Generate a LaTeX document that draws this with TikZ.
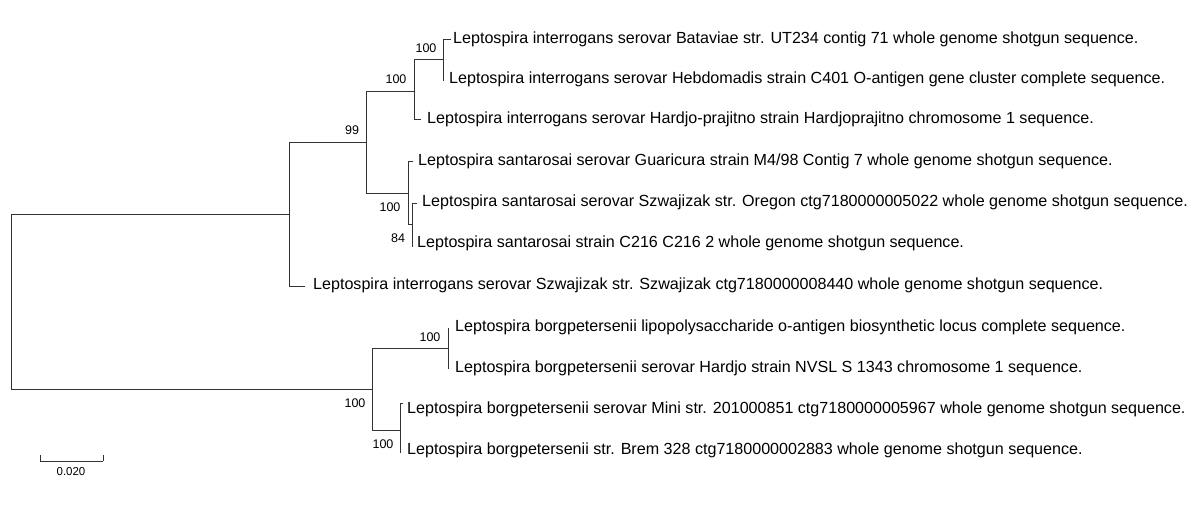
\documentclass[tikz,border=0pt]{standalone}
\usepackage{fontspec}
\setmainfont{Liberation Sans}
\tikzset{
  branch/.style={draw=black!80, line width=0.9pt},
  leaf/.style={anchor=base west, inner sep=0pt, font=\fontsize{16.1}{18}\selectfont},
  boot/.style={inner sep=0pt, font=\fontsize{12.5}{14}\selectfont},
  scalelbl/.style={inner sep=0pt, font=\fontsize{11.5}{13}\selectfont},
}
\begin{document}
\begin{tikzpicture}[x=1pt,y=-1pt]
\useasboundingbox[fill=white] (0,0) rectangle (1198,526);
% internal nodes
\coordinate (root) at (11,301.5);
\coordinate (A) at (289,214);
\coordinate (B) at (366,142);
\coordinate (C) at (414,91);
\coordinate (D) at (443,59);
\coordinate (E) at (408,193);
\coordinate (F) at (412,224);
\coordinate (G) at (372,389);
\coordinate (H) at (448,348);
\coordinate (I) at (400,430);
% leaf tips
\coordinate (l1) at (451,39);
\coordinate (l2) at (443,81);
\coordinate (l3) at (421,119);
\coordinate (l4) at (413,161);
\coordinate (l5) at (417,203);
\coordinate (l6) at (412,247);
\coordinate (l7) at (305,286);
\coordinate (l8) at (448,328);
\coordinate (l9) at (448,369);
\coordinate (l10) at (403,403);
\coordinate (l11) at (400,453);
% branches
\draw[branch] (root) |- (A);
\draw[branch] (root) |- (G);
\draw[branch] (A) |- (B);
\draw[branch] (A) |- (l7);
\draw[branch] (B) |- (C);
\draw[branch] (B) |- (E);
\draw[branch] (C) |- (D);
\draw[branch] (C) |- (l3);
\draw[branch] (D) |- (l1);
\draw[branch] (D) |- (l2);
\draw[branch] (E) |- (l4);
\draw[branch] (E) |- (F);
\draw[branch] (F) |- (l5);
\draw[branch] (F) |- (l6);
\draw[branch] (G) |- (H);
\draw[branch] (G) |- (I);
\draw[branch] (H) |- (l8);
\draw[branch] (H) |- (l9);
\draw[branch] (I) |- (l10);
\draw[branch] (I) |- (l11);
% leaf labels
\node[leaf] (t1) at (453,43.5) {Leptospira interrogans serovar Bataviae str. UT234 contig 71 whole genome shotgun sequence.};
\node[leaf] (t2) at (449,83.5) {Leptospira interrogans serovar Hebdomadis strain C401 O-antigen gene cluster complete sequence.};
\node[leaf] (t3) at (427,124) {Leptospira interrogans serovar Hardjo-prajitno strain Hardjoprajitno chromosome 1 sequence.};
\node[leaf] (t4) at (418,165.5) {Leptospira santarosai serovar Guaricura strain M4/98 Contig 7 whole genome shotgun sequence.};
\node[leaf] (t5) at (422,206.5) {Leptospira santarosai serovar Szwajizak str. Oregon ctg7180000005022 whole genome shotgun sequence.};
\node[leaf] (t6) at (417,247.5) {Leptospira santarosai strain C216 C216 2 whole genome shotgun sequence.};
\node[leaf] (t7) at (313,289.5) {Leptospira interrogans serovar Szwajizak str. Szwajizak ctg7180000008440 whole genome shotgun sequence.};
\node[leaf] (t8) at (455,331.5) {Leptospira borgpetersenii lipopolysaccharide o-antigen biosynthetic locus complete sequence.};
\node[leaf] (t9) at (455,372.5) {Leptospira borgpetersenii serovar Hardjo strain NVSL S 1343 chromosome 1 sequence.};
\node[leaf] (t10) at (407,413.5) {Leptospira borgpetersenii serovar Mini str. 201000851 ctg7180000005967 whole genome shotgun sequence.};
\node[leaf] (t11) at (407,454.5) {Leptospira borgpetersenii str. Brem 328 ctg7180000002883 whole genome shotgun sequence.};
% bootstrap values
\node[boot] (b1) at (352,130) {99};
\node[boot] (b2) at (396,79) {100};
\node[boot] (b3) at (426,48) {100};
\node[boot] (b4) at (390,207) {100};
\node[boot] (b5) at (398,238) {84};
\node[boot] (b6) at (355,403) {100};
\node[boot] (b7) at (430,337) {100};
\node[boot] (b8) at (383,444) {100};
% scale bar
\coordinate (s1) at (40,461);
\coordinate (s2) at (103,461);
\draw[branch] (s1) -- (s2);
\draw[branch] (s1) -- ++(0,-6);
\draw[branch] (s2) -- ++(0,-6);
\node[scalelbl] (sl) at (71,472) {0.020};
\end{tikzpicture}
\end{document}
